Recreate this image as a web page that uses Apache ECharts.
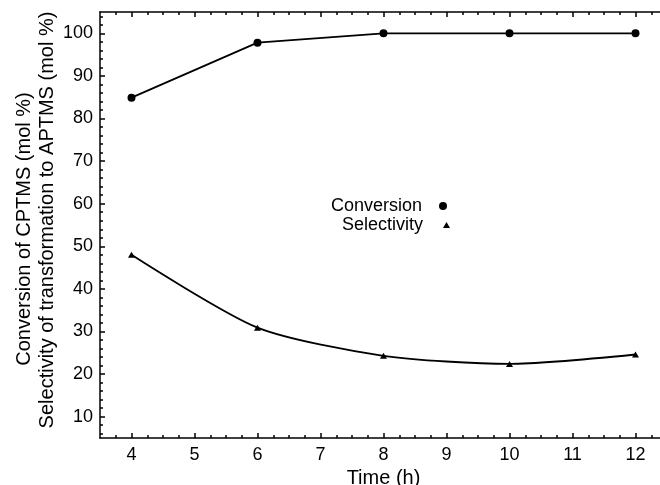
<!DOCTYPE html>
<html>
<head>
<meta charset="utf-8">
<script src="https://cdn.jsdelivr.net/npm/echarts@6/dist/echarts.min.js"></script>
<style>html,body{margin:0;padding:0;background:#fff}#c{width:660px;height:485px}</style>
</head>
<body>
<div id="c"></div>
<script>
// ---- data ----
const timeH = [4, 6, 8, 10, 12];
const conversion = [84.9, 97.8, 100, 100, 100];
const selectivity = [48.0, 30.9, 24.3, 22.4, 24.6];
const xTickLabels = [4, 5, 6, 7, 8, 9, 10, 11, 12];
const yTickLabels = [10, 20, 30, 40, 50, 60, 70, 80, 90, 100];
const xMinorTicks = [3.75, 4.25, 4.5, 4.75, 5.25, 5.5, 5.75, 6.25, 6.5, 6.75, 7.25, 7.5, 7.75, 8.25, 8.5, 8.75, 9.25, 9.5, 9.75, 10.25, 10.5, 10.75, 11.25, 11.5, 11.75, 12.25];
const yMinorTicks = [6, 8, 12, 14, 16, 18, 22, 24, 26, 28, 32, 34, 36, 38, 42, 44, 46, 48, 52, 54, 56, 58, 62, 64, 66, 68, 72, 74, 76, 78, 82, 84, 86, 88, 92, 94, 96, 98, 102, 104];
const xRange = [3.5, 12.5];
const yRange = [5, 105];
const yTitle1 = 'Conversion of CPTMS (mol %)';
const yTitle2 = 'Selectivity of transformation to APTMS (mol %)';

const FONT = 'Liberation Sans, Arial, Helvetica, sans-serif';
const chart = echarts.init(document.getElementById('c'), null, {renderer: 'canvas'});

function xAx(pos, major, showLine, showLabel, extra) {
  return Object.assign({
    type: 'value', position: pos, min: xRange[0], max: xRange[1], offset: 0,
    axisLine: {show: showLine, onZero: false, lineStyle: {color: '#000', width: 1.5}},
    axisTick: {show: true, inside: true, length: major ? 5 : 3, customValues: major ? xTickLabels : xMinorTicks, lineStyle: {color: '#000', width: 1.5}},
    axisLabel: {show: showLabel, customValues: major ? xTickLabels : xMinorTicks, color: '#000', fontSize: 18, fontFamily: FONT, margin: 8},
    splitLine: {show: false}
  }, extra || {});
}
function yAx(pos, major, showLine, showLabel) {
  return {
    type: 'value', position: pos, min: yRange[0], max: yRange[1], offset: 0,
    axisLine: {show: showLine, onZero: false, lineStyle: {color: '#000', width: 1.5}},
    axisTick: {show: true, inside: true, length: major ? 5 : 3, customValues: major ? yTickLabels : yMinorTicks, lineStyle: {color: '#000', width: 1.5}},
    axisLabel: {show: showLabel, customValues: major ? yTickLabels : yMinorTicks, color: '#000', fontSize: 18, fontFamily: FONT, margin: 7},
    splitLine: {show: false}
  };
}

chart.setOption({
  animation: false,
  backgroundColor: '#fff',
  grid: {left: 100, top: 12, width: 567, height: 426, containLabel: false, outerBoundsMode: 'none'},
  xAxis: [
    xAx('bottom', true, true, true, {name: 'Time (h)', nameLocation: 'middle', nameGap: 25, nameTextStyle: {color: '#000', fontSize: 20, fontFamily: FONT}}),
    xAx('bottom', false, false, false),
    xAx('top', true, true, false),
    xAx('top', false, false, false)
  ],
  yAxis: [
    yAx('left', true, true, true),
    yAx('left', false, false, false)
  ],
  graphic: [
    {type: 'text', x: 24, y: 229, rotation: Math.PI / 2,
     style: {text: yTitle1, fill: '#000', font: '20px ' + FONT, textAlign: 'center', textVerticalAlign: 'middle'}},
    {type: 'text', x: 47, y: 220, rotation: Math.PI / 2,
     style: {text: yTitle2, fill: '#000', font: '20px ' + FONT, textAlign: 'center', textVerticalAlign: 'middle'}}
  ],
  legend: [
    {data: ['Conversion'], orient: 'vertical', align: 'right', right: 208, top: 192, icon: 'circle', itemWidth: 8, itemHeight: 8,
     textStyle: {color: '#000', fontSize: 18, fontFamily: FONT, padding: [0, 12, 0, 0]}, selectedMode: false},
    {data: ['Selectivity'], orient: 'vertical', align: 'right', right: 205, top: 211, icon: 'triangle', itemWidth: 7, itemHeight: 6,
     textStyle: {color: '#000', fontSize: 18, fontFamily: FONT, padding: [0, 15, 0, 0]}, selectedMode: false}
  ],
  series: [
    {name: 'Conversion', type: 'line', data: timeH.map((t, i) => [t, conversion[i]]),
     symbol: 'circle', symbolSize: 8, itemStyle: {color: '#000'}, lineStyle: {color: '#000', width: 1.8}},
    {name: 'Selectivity', type: 'line', data: timeH.map((t, i) => [t, selectivity[i]]), smooth: 0.25,
     symbol: 'triangle', symbolSize: [7, 6], itemStyle: {color: '#000'}, lineStyle: {color: '#000', width: 1.8}}
  ]
});
</script>
</body>
</html>
